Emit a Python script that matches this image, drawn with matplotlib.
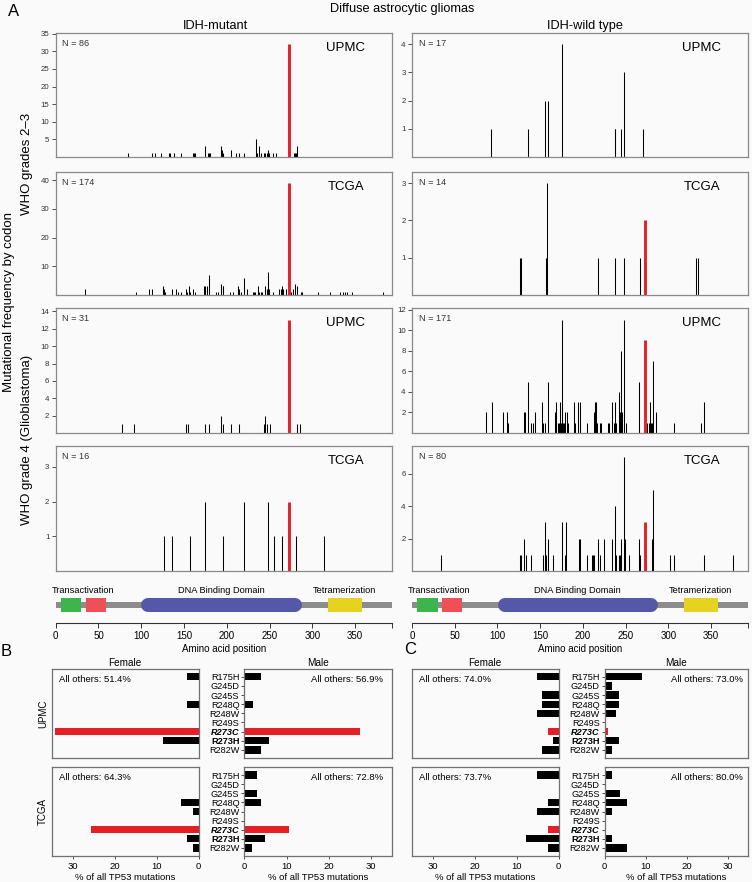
import matplotlib
matplotlib.use('Agg')
import matplotlib.pyplot as plt
from matplotlib.patches import Rectangle
import numpy as np

plt.rcParams['font.family'] = ['Liberation Sans', 'DejaVu Sans']

# ---------------- data: panel A (codon position, number of mutations) ----------------
mut_lgg_upmc_pos = [85, 112, 116, 123, 132, 134, 138, 146, 161, 162, 163, 175, 178, 179, 180, 193, 194, 196,
                    205, 211, 214, 220, 234, 235, 238, 240, 243, 245, 247, 248, 249, 254, 258, 273, 278, 280, 281, 282]
mut_lgg_upmc_cnt = [1, 1, 1, 1, 1, 1, 1, 1, 1, 1, 1, 3, 1, 1, 1, 3, 2, 1,
                    2, 1, 1, 1, 5, 1, 3, 1, 1, 1, 1, 2, 1, 1, 1, 32, 1, 1, 1, 3]

wt_lgg_upmc_pos = [92, 136, 156, 159, 175, 237, 238, 245, 248, 270]
wt_lgg_upmc_cnt = [1, 1, 2, 2, 4, 1, 1, 1, 3, 1]

mut_lgg_tcga_pos = [34, 94, 109, 113, 125, 126, 128, 136, 141, 143, 146, 152, 154, 156, 157, 161, 163, 173, 175,
                    177, 179, 187, 190, 193, 195, 196, 204, 207, 213, 214, 216, 220, 224, 230, 232, 233, 236, 237,
                    240, 241, 245, 247, 248, 249, 254, 261, 263, 265, 266, 269, 273, 275, 277, 280, 282, 287, 288,
                    306, 321, 332, 336, 338, 340, 346, 382]
mut_lgg_tcga_cnt = [2, 1, 2, 2, 3, 2, 1, 2, 2, 1, 1, 2, 1, 3, 1, 2, 1, 3, 3,
                    3, 7, 1, 1, 4, 3, 3, 1, 1, 3, 2, 1, 6, 2, 1, 1, 1, 3, 1,
                    1, 1, 3, 2, 8, 2, 1, 2, 2, 3, 2, 2, 39, 1, 2, 4, 3, 1, 1,
                    1, 1, 1, 1, 1, 1, 1, 1]

wt_lgg_tcga_pos = [126, 127, 157, 158, 217, 237, 248, 267, 273, 332, 335]
wt_lgg_tcga_cnt = [1, 1, 1, 3, 1, 1, 1, 1, 2, 1, 1]

mut_gbm_upmc_pos = [77, 92, 152, 155, 175, 179, 193, 195, 205, 214, 244, 245, 247, 250, 273, 282, 285]
mut_gbm_upmc_cnt = [1, 1, 1, 1, 1, 1, 2, 1, 1, 1, 1, 2, 1, 1, 13, 1, 1]

wt_gbm_upmc_pos = [87, 94, 107, 111, 112, 131, 132, 136, 139, 142, 144, 152, 153, 156, 159, 167, 168, 171, 172,
                   173, 174, 175, 176, 177, 178, 179, 181, 183, 190, 191, 194, 196, 197, 205, 213, 214, 215, 216,
                   220, 221, 229, 231, 234, 236, 238, 239, 242, 243, 244, 245, 246, 248, 250, 266, 273, 275, 277,
                   278, 280, 281, 282, 285, 306, 338, 342]
wt_gbm_upmc_cnt = [2, 3, 2, 2, 1, 2, 2, 5, 1, 1, 2, 3, 1, 1, 5, 2, 3, 1, 1,
                   3, 1, 11, 3, 1, 1, 2, 2, 1, 3, 1, 3, 3, 1, 1, 2, 3, 3, 1,
                   1, 1, 1, 1, 3, 1, 3, 1, 4, 2, 2, 8, 2, 11, 1, 5, 9, 1, 1,
                   3, 1, 1, 7, 2, 1, 1, 3]

mut_gbm_tcga_pos = [126, 136, 157, 175, 196, 220, 248, 255, 264, 273, 281, 313]
mut_gbm_tcga_cnt = [1, 1, 1, 2, 1, 2, 2, 1, 1, 2, 1, 1]

wt_gbm_tcga_pos = [34, 126, 127, 131, 133, 139, 153, 156, 157, 159, 165, 175, 179, 180, 195, 196, 205, 211, 212,
                   213, 217, 220, 225, 234, 238, 239, 242, 243, 244, 245, 248, 249, 254, 266, 267, 273, 274, 281,
                   282, 302, 307, 342, 375]
wt_gbm_tcga_cnt = [1, 1, 1, 2, 1, 1, 1, 3, 1, 2, 1, 3, 1, 3, 2, 2, 1, 1, 1,
                   1, 2, 1, 2, 2, 4, 1, 1, 1, 1, 2, 7, 2, 1, 2, 1, 3, 1, 2,
                   5, 1, 1, 1, 1]

sample_n = {'mut_lgg_upmc': 86, 'wt_lgg_upmc': 17, 'mut_lgg_tcga': 174, 'wt_lgg_tcga': 14,
            'mut_gbm_upmc': 31, 'wt_gbm_upmc': 171, 'mut_gbm_tcga': 16, 'wt_gbm_tcga': 80}

# TP53 domains (start, end)
dom_transact1 = (6, 30)
dom_transact2 = (35, 59)
dom_dbd = (100, 288)
dom_tetra = (318, 358)
protein_len = 393

# ---------------- data: panels B / C (% of all TP53 mutations) ----------------
hotspots = ['R175H', 'G245D', 'G245S', 'R248Q', 'R248W', 'R249S', 'R273C', 'R273H', 'R282W']

b_upmc_female = [2.86, 0, 0, 2.86, 0, 0, 34.29, 8.57, 0]
b_upmc_male = [3.92, 0, 0, 1.96, 0, 0, 27.45, 5.88, 3.92]
b_tcga_female = [0, 0, 0, 4.29, 1.43, 0, 25.71, 2.86, 1.43]
b_tcga_male = [2.91, 0, 2.91, 3.88, 0, 0, 10.68, 4.85, 1.94]
b_others = {'upmc_f': '51.4%', 'upmc_m': '56.9%', 'tcga_f': '64.3%', 'tcga_m': '72.8%'}

c_upmc_female = [5.2, 0, 3.9, 3.9, 5.2, 0, 2.6, 1.3, 3.9]
c_upmc_male = [9.0, 1.8, 3.6, 3.6, 2.7, 0, 0.9, 3.6, 1.8]
c_tcga_female = [5.26, 0, 0, 2.63, 5.26, 0, 2.63, 7.89, 2.63]
c_tcga_male = [1.82, 0, 3.64, 5.45, 1.82, 0, 0, 1.82, 5.45]
c_others = {'upmc_f': '74.0%', 'upmc_m': '73.0%', 'tcga_f': '73.7%', 'tcga_m': '80.0%'}

# ---------------- styling ----------------
W, H = 752, 882
BG = '#fafafa'
RED = '#e41f26'
FRAME = '#8a8a8a'
DARK = '#333333'

fig = plt.figure(figsize=(W / 100, H / 100), dpi=100)
fig.patch.set_facecolor(BG)


def add_ax(x0, y0, x1, y1):
    ax = fig.add_axes([x0 / W, 1 - y1 / H, (x1 - x0) / W, (y1 - y0) / H])
    ax.set_facecolor(BG)
    return ax


def ftext(x, y, s, **kw):
    fig.text(x / W, 1 - y / H, s, **kw)


cols = [(55.7, 392), (412, 748)]
rows = [(33, 157), (172, 295), (308, 433), (446, 571)]

panels = [
    (0, 0, mut_lgg_upmc_pos, mut_lgg_upmc_cnt, 35.2, [5, 10, 15, 20, 25, 30, 35], 'mut_lgg_upmc', 'UPMC'),
    (0, 1, wt_lgg_upmc_pos, wt_lgg_upmc_cnt, 4.4, [1, 2, 3, 4], 'wt_lgg_upmc', 'UPMC'),
    (1, 0, mut_lgg_tcga_pos, mut_lgg_tcga_cnt, 42.9, [10, 20, 30, 40], 'mut_lgg_tcga', 'TCGA'),
    (1, 1, wt_lgg_tcga_pos, wt_lgg_tcga_cnt, 3.3, [1, 2, 3], 'wt_lgg_tcga', 'TCGA'),
    (2, 0, mut_gbm_upmc_pos, mut_gbm_upmc_cnt, 14.4, [2, 4, 6, 8, 10, 12, 14], 'mut_gbm_upmc', 'UPMC'),
    (2, 1, wt_gbm_upmc_pos, wt_gbm_upmc_cnt, 12.15, [2, 4, 6, 8, 10, 12], 'wt_gbm_upmc', 'UPMC'),
    (3, 0, mut_gbm_tcga_pos, mut_gbm_tcga_cnt, 3.6, [1, 2, 3], 'mut_gbm_tcga', 'TCGA'),
    (3, 1, wt_gbm_tcga_pos, wt_gbm_tcga_cnt, 7.7, [2, 4, 6], 'wt_gbm_tcga', 'TCGA'),
]

for r, c, pos, cnt, ytop, yt, key, src in panels:
    x0, x1 = cols[c]
    y0, y1 = rows[r]
    ax = add_ax(x0, y0, x1, y1)
    pos = np.asarray(pos)
    cnt = np.asarray(cnt)
    red = pos == 273
    ax.vlines(pos[~red], 0, cnt[~red], color='black', lw=0.75)
    ax.vlines(pos[red], 0, cnt[red], color=RED, lw=2.1)
    ax.set_xlim(0, protein_len)
    ax.set_ylim(0, ytop)
    ax.set_xticks([])
    ax.set_yticks(yt)
    ax.tick_params(axis='y', length=3, width=0.6, labelsize=5.7, pad=1.5, color=DARK, labelcolor=DARK)
    for s in ax.spines.values():
        s.set_color(FRAME)
        s.set_linewidth(0.9)
    ax.text(0.02, 0.915, f'N = {sample_n[key]}', transform=ax.transAxes, fontsize=6.6, va='center', ha='left',
            color=DARK)
    ax.text(0.862, 0.88, src, transform=ax.transAxes, fontsize=9.5, va='center', ha='center', color='black')

# titles
ftext(8, 12, 'A', fontsize=12, va='center', ha='left')
ftext(402, 9, 'Diffuse astrocytic gliomas', fontsize=9.2, va='center', ha='center')
ftext(215, 26, 'IDH-mutant', fontsize=9.2, va='center', ha='center')
ftext(585, 26, 'IDH-wild type', fontsize=9.2, va='center', ha='center')
ftext(9, 302, 'Mutational frequency by codon', fontsize=9.5, rotation=90, va='center', ha='center')
ftext(27, 164, 'WHO grades 2–3', fontsize=9.5, rotation=90, va='center', ha='center')
ftext(27, 440, 'WHO grade 4 (Glioblastoma)', fontsize=9.5, rotation=90, va='center', ha='center')

# domain tracks
for x0, x1 in cols:
    ax = add_ax(x0, 585, x1, 623)
    ax.set_xlim(0, protein_len)
    ax.set_ylim(0, 1)
    yc = 0.47
    ax.add_patch(Rectangle((0, yc - 0.075), protein_len, 0.15, color='#8c8c8c', lw=0))
    ax.add_patch(Rectangle((dom_transact1[0], yc - 0.185), dom_transact1[1] - dom_transact1[0], 0.37,
                           color='#3db54b', lw=0))
    ax.add_patch(Rectangle((dom_transact2[0], yc - 0.185), dom_transact2[1] - dom_transact2[0], 0.37,
                           color='#ee5056', lw=0))
    ax.add_patch(Rectangle((dom_tetra[0], yc - 0.185), dom_tetra[1] - dom_tetra[0], 0.37,
                           color='#e5d31f', lw=0))
    ax.plot([dom_dbd[0] + 8.2, dom_dbd[1] - 8.2], [yc, yc], lw=10.1, solid_capstyle='round', color='#5558a8')
    ax.text(32, 0.85, 'Transactivation', fontsize=6.7, ha='center', va='center')
    ax.text(194, 0.85, 'DNA Binding Domain', fontsize=6.7, ha='center', va='center')
    ax.text(338, 0.85, 'Tetramerization', fontsize=6.7, ha='center', va='center')
    for s in ['top', 'right', 'left']:
        ax.spines[s].set_visible(False)
    ax.spines['bottom'].set_bounds(0, protein_len)
    ax.spines['bottom'].set_color(DARK)
    ax.spines['bottom'].set_linewidth(0.8)
    ax.set_yticks([])
    ax.set_xticks([0, 50, 100, 150, 200, 250, 300, 350, protein_len])
    ax.set_xticklabels(['0', '50', '100', '150', '200', '250', '300', '350', ''])
    ax.tick_params(axis='x', length=3.5, width=0.7, labelsize=7, pad=2, color=DARK)
    ax.set_xlabel('Amino acid position', fontsize=7, labelpad=2.5)

# ---------------- panels B / C ----------------
bc_rows = [(669, 757.7), (767.3, 855.7)]
sections = [
    dict(f=(51.7, 198.7), m=(244.3, 392), data=[(b_upmc_female, b_upmc_male), (b_tcga_female, b_tcga_male)],
         others=b_others, mx=0.94),
    dict(f=(411.7, 558.7), m=(604.7, 748), data=[(c_upmc_female, c_upmc_male), (c_tcga_female, c_tcga_male)],
         others=c_others, mx=0.965),
]
row_keys = ['upmc', 'tcga']
idx = np.arange(len(hotspots))
bar_colors = [RED if h == 'R273C' else 'black' for h in hotspots]

for sec in sections:
    for ri, (y0, y1) in enumerate(bc_rows):
        fvals, mvals = sec['data'][ri]
        for side, vals, (x0, x1) in [('f', fvals, sec['f']), ('m', mvals, sec['m'])]:
            ax = add_ax(x0, y0, x1, y1)
            ax.barh(idx, vals, height=0.8, color=bar_colors)
            ax.set_ylim(8.85, -0.85)
            if side == 'f':
                ax.set_xlim(35, 0)
                ax.set_yticks([])
                ax.text(0.05, 0.885, 'All others: ' + sec['others'][row_keys[ri] + '_f'],
                        transform=ax.transAxes, fontsize=6.8, ha='left', va='center')
            else:
                ax.set_xlim(0, 35)
                ax.set_yticks(idx)
                ax.set_yticklabels(hotspots)
                for lab in ax.get_yticklabels():
                    if lab.get_text() == 'R273C':
                        lab.set_fontweight('bold')
                        lab.set_fontstyle('italic')
                    elif lab.get_text() == 'R273H':
                        lab.set_fontweight('bold')
                ax.text(sec['mx'], 0.885, 'All others: ' + sec['others'][row_keys[ri] + '_m'],
                        transform=ax.transAxes, fontsize=6.8, ha='right', va='center')
            ax.tick_params(axis='y', length=2.5, width=0.6, labelsize=6.6, pad=1, color=DARK)
            if ri == 1:
                ax.set_xticks([0, 10, 20, 30])
                ax.tick_params(axis='x', length=2.5, width=0.6, labelsize=6.8, pad=2, color=DARK)
                ax.set_xlabel('% of all TP53 mutations', fontsize=6.8, labelpad=1.5)
            else:
                ax.set_xticks([])
            for s in ax.spines.values():
                s.set_color('#707070')
                s.set_linewidth(0.9)
        if ri == 0:
            ftext((sec['f'][0] + sec['f'][1]) / 2, 662.5, 'Female', fontsize=7.2, ha='center', va='center')
            ftext((sec['m'][0] + sec['m'][1]) / 2, 662.5, 'Male', fontsize=7.2, ha='center', va='center')

ftext(43, (bc_rows[0][0] + bc_rows[0][1]) / 2, 'UPMC', fontsize=7, rotation=90, ha='center', va='center')
ftext(43, (bc_rows[1][0] + bc_rows[1][1]) / 2, 'TCGA', fontsize=7, rotation=90, ha='center', va='center')
ftext(6, 652, 'B', fontsize=12, ha='center', va='center')
ftext(410, 649, 'C', fontsize=12, ha='center', va='center')

fig.savefig('out.png', dpi=100, facecolor=BG)
